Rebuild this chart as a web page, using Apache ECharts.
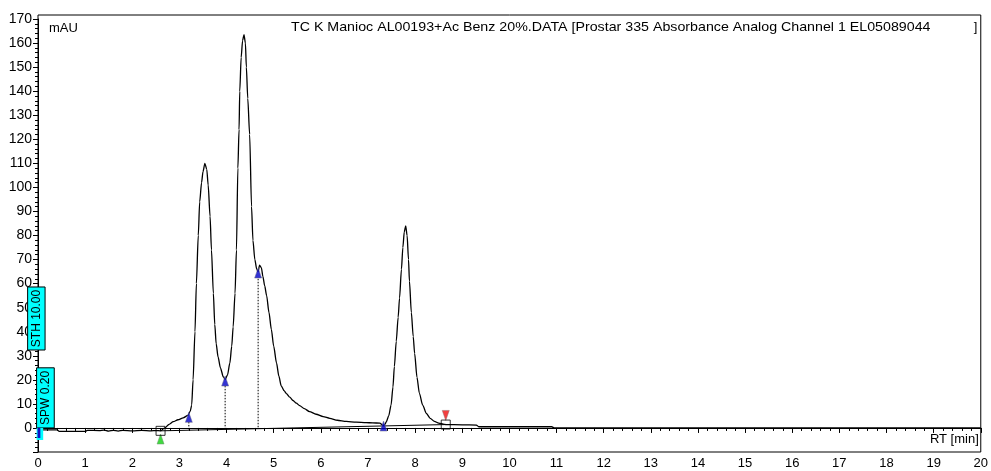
<!DOCTYPE html>
<html><head><meta charset="utf-8">
<script src="https://cdn.jsdelivr.net/npm/echarts@6/dist/echarts.min.js"></script>
<style>html,body{margin:0;padding:0;background:#fff}#c{width:991px;height:471px}</style>
</head><body><div id="c"></div>
<script>
// ---- data ----
const rtMin = [0,0.1,0.4,0.45,0.9,1.0,1.05,1.3,1.4,1.5,1.6,1.7,1.8,2.0,2.2,2.4,2.5,2.6,2.69,2.78,2.87,2.97,3.08,3.18,3.23,3.26,3.29,3.33,3.36,3.40,3.43,3.47,3.50,3.54,3.58,3.61,3.65,3.68,3.72,3.75,3.78,3.82,3.87,3.93,3.97,4.02,4.07,4.11,4.14,4.18,4.21,4.24,4.265,4.28,4.31,4.34,4.37,4.40,4.42,4.45,4.49,4.53,4.56,4.60,4.64,4.67,4.70,4.74,4.77,4.81,4.85,4.90,4.95,5.00,5.06,5.11,5.16,5.22,5.27,5.34,5.41,5.48,5.55,5.65,5.76,5.9,6.05,6.19,6.35,6.54,6.75,6.96,7.1,7.25,7.32,7.36,7.39,7.44,7.49,7.53,7.56,7.60,7.64,7.67,7.71,7.74,7.77,7.80,7.83,7.86,7.88,7.92,7.96,7.99,8.04,8.09,8.16,8.24,8.32,8.41,8.5,8.62,8.65,9.0,9.3,9.35,10.9,10.95,20];
const signalMau = [-0.8,-0.8,-0.8,-1.4,-1.4,-1.4,-1.0,-1.1,-0.9,-1.3,-1.0,-1.3,-1.0,-1.2,-1.0,-1.2,-1.1,-1.2,0.0,1.5,2.6,3.4,4.2,5.2,7.0,9.5,20,40,60,80,94,102,106.5,110,107.5,101,88,74,56,43,35,29.5,25,21.3,20.2,22,27,34,42,56,74,108,124,140,154,161,163.5,160,150,137,122,92,78,70,66,65,67.7,66.5,63,59,55,48,41,34,27,21.5,17.5,15.5,14.3,12.8,11.4,10.3,9.3,8,6.8,5.7,4.7,4.0,3.2,2.7,2.4,2.2,2.1,2.0,1.0,1.5,2.6,5,9.5,17,25.5,36,46,54,66,75,81.5,84,80,70,61,48,38,31,21,14.5,9.5,6,4,2.7,2.0,1.5,1.4,1.3,1.2,0.5,0.5,0,0];
const baselineRt = [2.6, 8.65];
const baselineMau = [-1.2, 1.4];
const peakMarkRt = [3.2, 3.97, 4.67, 7.33];
const peakMarkMau = [4.4, 19.5, 64.4, 0.8];
const dropRt = [3.2, 3.97, 4.67];
const dropTopMau = [2.5, 17.5, 62];
const dropBottomMau = [-0.9, -0.6, -0.3];
const startMarkRt = [2.6], startMarkMau = [-4.6];
const endMarkRt = [8.65], endMarkMau = [5.2];
const boxMarkRt = [2.6, 8.65], boxMarkMau = [-1.2, 1.4];
const titleText = 'TC K Manioc AL00193+Ac Benz 20%.DATA [Prostar 335 Absorbance Analog Channel 1 EL05089044';
const yUnit = 'mAU', xUnit = 'RT [min]';
const sthLabel = 'STH 10.00', spwLabel = 'SPW 0.20';

const FONT = '"Liberation Sans", Arial, sans-serif';
const chart = echarts.init(document.getElementById('c'), null, {renderer: 'canvas'});
const curve = rtMin.map((t, i) => [t, signalMau[i]]);
const dropSeries = dropRt.map((t, i) => ({
  type: 'line', data: [[t, dropTopMau[i]], [t, dropBottomMau[i]]], symbol: 'none', silent: true,
  lineStyle: {color: '#000', width: 1, type: [1.5, 1.5]}, z: 3
}));
chart.setOption({
  animation: false,
  grid: {left: 38, right: 9, top: 19, bottom: 19},
  xAxis: {
    type: 'value', min: 0, max: 20, interval: 1,
    axisLine: {show: true, lineStyle: {color: '#000', width: 1}},
    axisTick: {show: true, length: 5, lineStyle: {color: '#000'}},
    minorTick: {show: true, splitNumber: 5, length: 3, lineStyle: {color: '#000'}},
    splitLine: {show: false},
    axisLabel: {color: '#000', fontSize: 13, fontFamily: FONT, margin: 5}
  },
  yAxis: {
    type: 'value', min: -10, max: 170, interval: 10,
    axisLine: {show: true, lineStyle: {color: '#000', width: 1}},
    axisTick: {show: true, length: 5, lineStyle: {color: '#000'}},
    minorTick: {show: true, splitNumber: 5, length: 3, lineStyle: {color: '#000'}},
    splitLine: {show: false},
    axisLabel: {color: '#000', fontSize: 14, fontFamily: FONT, margin: 6,
      formatter: v => (v === -10 ? '' : String(v))}
  },
  series: [
    {type: 'line', data: curve, symbol: 'none', smooth: 0.25, smoothMonotone: 'x',
     lineStyle: {color: '#000', width: 1.3}, z: 4},
    {type: 'line', data: baselineRt.map((t, i) => [t, baselineMau[i]]), symbol: 'none',
     lineStyle: {color: '#000', width: 1}, z: 3},
    ...dropSeries,
    {type: 'scatter', data: peakMarkRt.map((t, i) => [t, peakMarkMau[i]]), symbol: 'triangle', symbolSize: [7, 10],
     itemStyle: {color: '#0000c8', borderColor: '#707088', borderWidth: 0.6}, z: 6},
    {type: 'scatter', data: startMarkRt.map((t, i) => [t, startMarkMau[i]]), symbol: 'triangle', symbolSize: [7, 10],
     itemStyle: {color: '#10d010', borderColor: '#709070', borderWidth: 0.6}, z: 6},
    {type: 'scatter', data: endMarkRt.map((t, i) => [t, endMarkMau[i]]), symbol: 'triangle', symbolRotate: 180, symbolSize: [7, 10],
     itemStyle: {color: '#f01010', borderColor: '#907070', borderWidth: 0.6}, z: 6},
    {type: 'scatter', data: boxMarkRt.map((t, i) => [t, boxMarkMau[i]]), symbol: 'rect', symbolSize: 9,
     itemStyle: {color: 'rgba(0,0,0,0)', borderColor: '#000', borderWidth: 1}, z: 6}
  ]
});

function px(t, v) { return chart.convertToPixel({gridIndex: 0}, [t, v]); }
const p00 = px(0, -10), p20 = px(20, 170);
const frameTop = p20[1] - 4;
const sthA = px(-0.22, 58.6), sthB = px(0.15, 32.4);
const spwA = px(-0.03, 25), spwB = px(0.345, 0);
function box(a, b) { return {x: a[0], y: a[1], width: b[0] - a[0], height: b[1] - a[1]}; }
chart.setOption({graphic: [
  {type: 'rect', shape: {x: p00[0], y: frameTop, width: p20[0] - p00[0], height: p00[1] - frameTop},
   style: {fill: 'none', stroke: '#000', lineWidth: 1}, z: 10, silent: true},
  {type: 'text', x: p00[0] + 11, y: frameTop + 13, style: {text: yUnit, font: '13px ' + FONT, fill: '#000', textVerticalAlign: 'middle'}, z: 11},
  {type: 'text', x: 291, y: frameTop + 12, scaleX: 1.094, style: {text: titleText, font: '13px ' + FONT, fill: '#000', textVerticalAlign: 'middle'}, z: 11},
  {type: 'text', x: p20[0] - 7, y: frameTop + 12, style: {text: ']', font: '13px ' + FONT, fill: '#000', textVerticalAlign: 'middle'}, z: 11},
  {type: 'text', x: p20[0] - 2, y: p00[1] - 13, style: {text: xUnit, font: '13px ' + FONT, fill: '#000', textAlign: 'right', textVerticalAlign: 'middle'}, z: 11},
  {type: 'rect', shape: box(sthA, sthB), style: {fill: '#00ffff', stroke: '#000', lineWidth: 1}, z: 12},
  {type: 'text', x: (sthA[0] + sthB[0]) / 2, y: (sthA[1] + sthB[1]) / 2, rotation: Math.PI / 2,
   style: {text: sthLabel, font: '12px ' + FONT, fill: '#000', textAlign: 'center', textVerticalAlign: 'middle'}, z: 13},
  {type: 'rect', shape: box(spwA, spwB), style: {fill: '#00ffff', stroke: '#000', lineWidth: 1}, z: 12},
  {type: 'text', x: (spwA[0] + spwB[0]) / 2, y: (spwA[1] + spwB[1]) / 2, rotation: Math.PI / 2,
   style: {text: spwLabel, font: '12px ' + FONT, fill: '#000', textAlign: 'center', textVerticalAlign: 'middle'}, z: 13},
  {type: 'rect', shape: box(px(-0.03, 0), px(0.11, -5)), style: {fill: '#00ffff'}, z: 12},
  {type: 'rect', shape: box(px(-0.01, 0), px(0.05, -4.2)), style: {fill: '#1010c8'}, z: 13}
]});
</script></body></html>
